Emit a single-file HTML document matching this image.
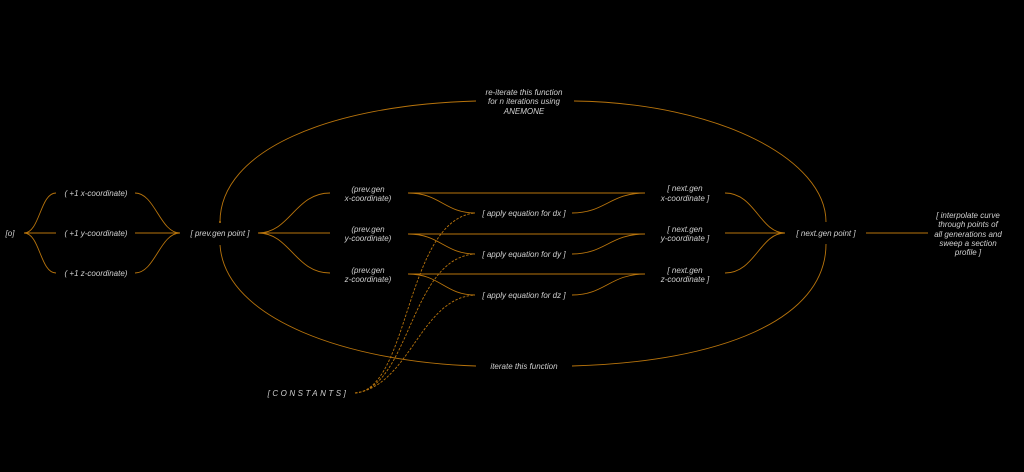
<!DOCTYPE html>
<html><head><meta charset="utf-8"><style>
html,body{margin:0;padding:0;background:#000;}
svg{display:block;}
text{font-family:"Liberation Sans",sans-serif;font-style:italic;font-size:8px;fill:#d0d0d0;text-anchor:middle;}
path,line{stroke:#b8740c;stroke-width:0.9;fill:none;}
.d{stroke-dasharray:2.5,1.5;}
</style></head><body>
<svg width="1024" height="472" viewBox="0 0 1024 472">
<text x="10" y="236">[o]</text>
<path d="M24,233 C40,233 40,193 56,193"/>
<path d="M24,233 L56,233"/>
<path d="M24,233 C40,233 40,273 56,273"/>
<text x="96" y="196">( +1  x-coordinate)</text>
<text x="96" y="236">( +1  y-coordinate)</text>
<text x="96" y="276">( +1  z-coordinate)</text>
<path d="M135,193 C155,193 160,233 180,233"/>
<path d="M135,233 L180,233"/>
<path d="M135,273 C155,273 160,233 180,233"/>
<text x="220" y="236">[ prev.gen point ]</text>
<path d="M220,222 C220,150 330,105 476,101"/>
<circle cx="220" cy="222" r="1" fill="#b8740c"/>
<text x="524" y="95">re-iterate this function</text>
<text x="524" y="104">for n iterations using</text>
<text x="524" y="114">ANEMONE</text>
<path d="M574,101 C720,103 826,160 826,222"/>
<path d="M220,245 C225,320 350,362 476,366"/>
<text x="524" y="369">iterate this function</text>
<path d="M572,366 C720,362 826,320 826,244"/>
<path d="M258,233 C290,233 295,193 330,193"/>
<path d="M258,233 L330,233"/>
<path d="M258,233 C290,233 295,273 330,273"/>
<text x="368" y="192">(prev.gen</text><text x="368" y="201">x-coordinate)</text>
<text x="368" y="232">(prev.gen</text><text x="368" y="241">y-coordinate)</text>
<text x="368" y="273">(prev.gen</text><text x="368" y="282">z-coordinate)</text>
<g>
<path d="M408,193 L645,193"/><path d="M408,234 L645,234"/><path d="M408,274 L645,274"/>
<path d="M408,193 C440,193 445,213 475,213"/>
<path d="M408,234 C440,234 445,254 475,254"/>
<path d="M408,274 C440,274 445,295 475,295"/>
<path d="M572,213 C605,213 610,193 645,193"/>
<path d="M572,254 C605,254 610,234 645,234"/>
<path d="M572,295 C605,295 610,274 645,274"/>
</g>
<text x="524" y="216">[ apply equation for dx ]</text>
<text x="524" y="257">[ apply equation for dy ]</text>
<text x="524" y="298">[ apply equation for dz ]</text>
<text x="685" y="191">[ next.gen</text><text x="685" y="201">x-coordinate ]</text>
<text x="685" y="232">[ next.gen</text><text x="685" y="241">y-coordinate ]</text>
<text x="685" y="273">[ next.gen</text><text x="685" y="282">z-coordinate ]</text>
<path d="M725,193 C755,193 760,233 785,233"/>
<path d="M725,233 L785,233"/>
<path d="M725,273 C755,273 760,233 785,233"/>
<text x="826" y="236">[ next.gen point ]</text>
<path d="M866,233 L928,233"/>
<text x="968" y="218">[ interpolate curve</text>
<text x="968" y="227">through points of</text>
<text x="968" y="237">all generations and</text>
<text x="968" y="246">sweep a section</text>
<text x="968" y="255">profile ]</text>
<text x="308" y="396" style="letter-spacing:2.5px">[CONSTANTS]</text>
<path class="d" d="M355,393 C410,390 405,220 475,213"/>
<path class="d" d="M355,393 C410,388 410,258 475,254"/>
<path class="d" d="M355,393 C410,386 420,298 475,295"/>
</svg>
</body></html>
